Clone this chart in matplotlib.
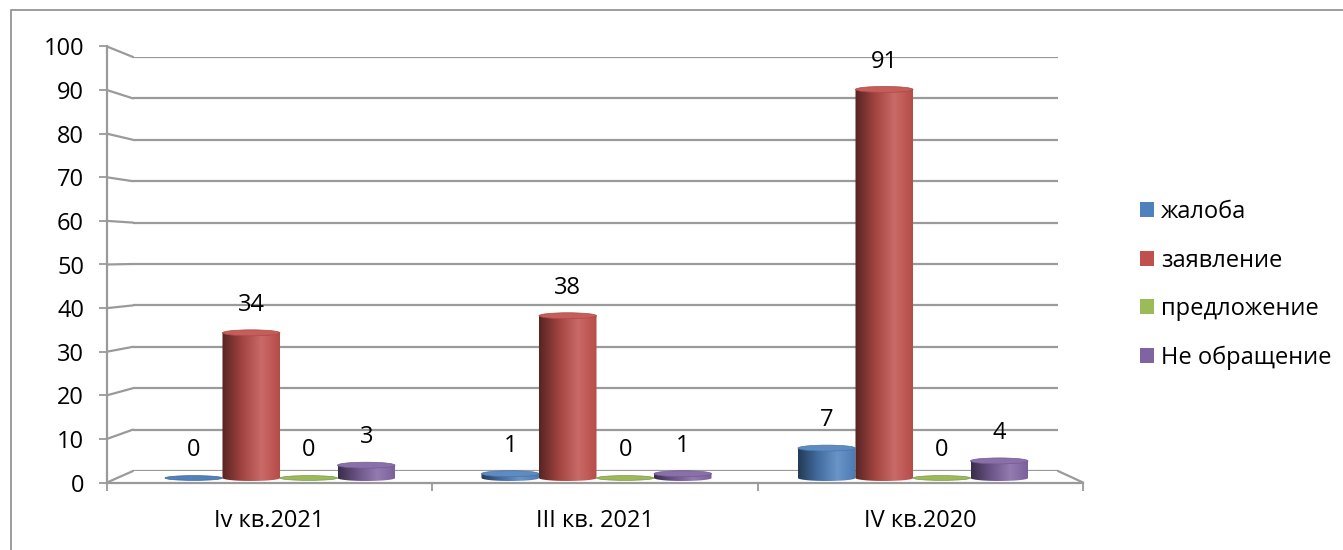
import numpy as np
import matplotlib
matplotlib.use('Agg')
import matplotlib.pyplot as plt
from matplotlib.colors import LinearSegmentedColormap, to_rgb
from matplotlib.patches import Ellipse, Polygon, Patch, Rectangle, ConnectionPatch

plt.rcParams['font.family'] = ['Open Sans', 'DejaVu Sans']

# Data
categories = ['Iv кв.2021', 'III кв. 2021', 'IV кв.2020']
series_names = ['жалоба', 'заявление', 'предложение', 'Не обращение']
zhaloba = [0, 1, 7]
zayavlenie = [34, 38, 91]
predlozhenie = [0, 0, 0]
ne_obrashchenie = [3, 1, 4]
y_ticks = list(range(0, 101, 10))

series_values = [zhaloba, zayavlenie, predlozhenie, ne_obrashchenie]
base_colors = ['#4F81BD', '#C0504D', '#9BBB59', '#8064A2']
grid_color = '#9A9A9A'
fs = 17

W, H = 1343, 550
fig = plt.figure(figsize=(W / 100, H / 100), dpi=100)


def axes_rect(left, right, y0, y100, ylo=0, yhi=100):
    # pixel layout -> figure fraction
    k = (y0 - y100) / 100.0
    bot = y0 - ylo * k
    top = y0 - yhi * k
    return [left / W, 1 - bot / H, (right - left) / W, (bot - top) / H]


def shade(c, f):
    r = np.array(to_rgb(c))
    if f < 1:
        return tuple(r * f)
    return tuple(r + (1 - r) * (f - 1))


# outer frame of the chart area
fig.add_artist(Rectangle((11 / W, -0.1), 1.2, 1 - 10 / H + 0.1, transform=fig.transFigure,
                         fill=False, edgecolor='#8C8C8C', lw=1.2))

# back wall with grid lines
wall_ax = fig.add_axes(axes_rect(133, 1058, 471, 57))
wall_ax.set_xlim(0, 1)
wall_ax.set_ylim(0, 100)
wall_ax.set_yticks(y_ticks)
wall_ax.grid(axis='y', color=grid_color, lw=1.6)
wall_ax.tick_params(left=False, bottom=False, labelleft=False, labelbottom=False)
for s in wall_ax.spines.values():
    s.set_visible(False)
wall_ax.patch.set_alpha(0)

# front axis (ticks and labels)
front_ax = fig.add_axes(axes_rect(107, 1083, 482.5, 46.5))
front_ax.set_xlim(0, 3)
front_ax.set_ylim(0, 100)
front_ax.set_yticks(y_ticks)
front_ax.set_xticks([0, 1, 2, 3])
front_ax.set_xticklabels([])
front_ax.set_xticks([0.5, 1.5, 2.5], minor=True)
front_ax.set_xticklabels(categories, minor=True, fontsize=fs)
front_ax.tick_params(axis='x', which='minor', length=0, pad=19)
front_ax.tick_params(axis='both', which='major', length=5.5, width=1.3, color=grid_color,
                     labelsize=fs)
front_ax.tick_params(axis='y', pad=11)
for side in ['top', 'right']:
    front_ax.spines[side].set_visible(False)
for side in ['left', 'bottom']:
    front_ax.spines[side].set_color(grid_color)
    front_ax.spines[side].set_linewidth(1.6)
front_ax.patch.set_alpha(0)

# perspective lines from the front axis to the back wall
for v in y_ticks:
    cp = ConnectionPatch((0, v), (0, v), coordsA=front_ax.transData, coordsB=wall_ax.transData,
                         color=grid_color, lw=1.6)
    fig.add_artist(cp)
cp = ConnectionPatch((3, 0), (1, 0), coordsA=front_ax.transData, coordsB=wall_ax.transData,
                     color=grid_color, lw=1.6)
fig.add_artist(cp)

# bars (cylinders) at mid depth
ylo = -5
bar_ax = fig.add_axes(axes_rect(121.75, 1071.25, 478, 51, ylo=ylo))
bar_ax.set_xlim(0, 3)
bar_ax.set_ylim(ylo, 100)
bar_ax.axis('off')
bar_ax.patch.set_alpha(0)

w = 0.1817
eh = 1.4
grad = np.linspace(0, 1, 128).reshape(1, -1)
for i, (vals, c) in enumerate(zip(series_values, base_colors)):
    cmap = LinearSegmentedColormap.from_list(
        'cyl%d' % i, [(0, shade(c, 0.45)), (0.35, shade(c, 0.85)), (0.68, shade(c, 1.15)),
                      (1, shade(c, 0.95))])
    for j, v in enumerate(vals):
        xc = j + 0.5 + (i - 1.5) * w
        x0, x1 = xc - w / 2, xc + w / 2
        if v > 0:
            t = np.linspace(np.pi, 2 * np.pi, 40)
            pts = [(xc + w / 2 * np.cos(a), eh / 2 * np.sin(a)) for a in t]
            pts += [(x1, v), (x0, v)]
            clip = Polygon(pts, closed=True, fill=False, edgecolor='none')
            bar_ax.add_patch(clip)
            im = bar_ax.imshow(grad, extent=(x0, x1, -eh, v), cmap=cmap, aspect='auto',
                               zorder=2, interpolation='bilinear')
            im.set_clip_path(clip)
            bar_ax.add_patch(Ellipse((xc, v), w, eh, facecolor=shade(c, 1.08),
                                     edgecolor=shade(c, 0.9), lw=0.5, zorder=3))
        else:
            bar_ax.add_patch(Ellipse((xc, v), w, eh * 0.8, facecolor=c,
                                     edgecolor=shade(c, 0.8), lw=0.5, zorder=3))
        bar_ax.annotate(str(v), (xc, v), xytext=(0, 20), textcoords='offset points',
                        ha='center', va='center', fontsize=fs, annotation_clip=False)

# legend
handles = [Patch(facecolor=c, edgecolor='none') for c in base_colors]
fig.legend(handles, series_names, loc='upper left', bbox_to_anchor=(1140 / W, 1 - 200 / H),
           frameon=False, fontsize=fs, handlelength=0.6, handleheight=0.6,
           handletextpad=0.3, labelspacing=1.04, borderpad=0, borderaxespad=0)

fig.savefig('out.png', dpi=100, facecolor='white')
